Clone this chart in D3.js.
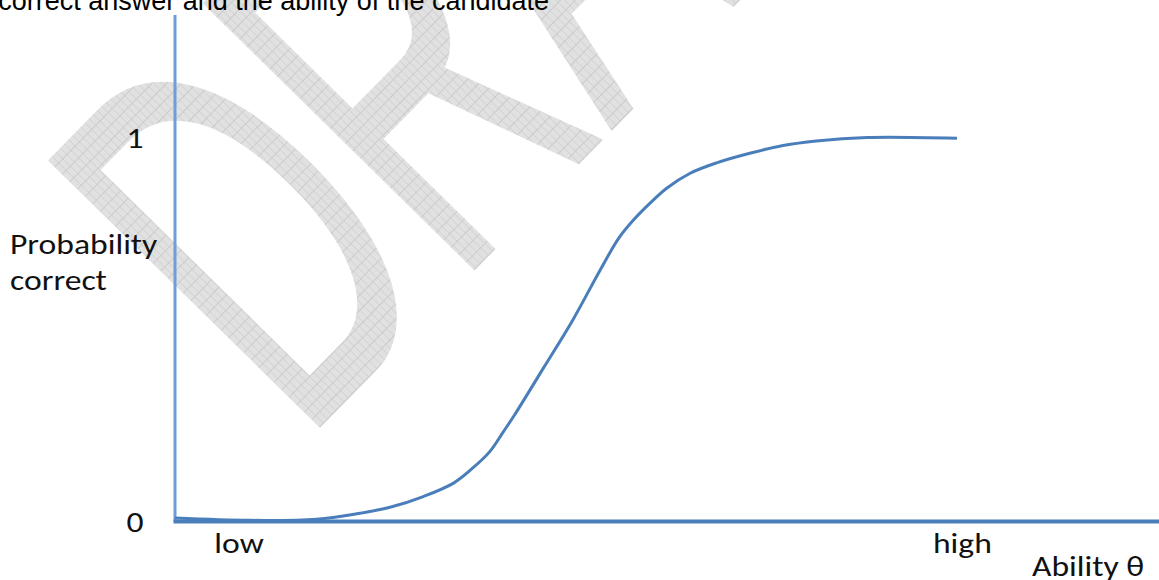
<!DOCTYPE html>
<html>
<head>
<meta charset="utf-8">
<script src="https://cdn.jsdelivr.net/npm/d3@7"></script>
<style>
  html, body { margin: 0; padding: 0; background: #fff; }
  svg { display: block; }
</style>
</head>
<body>
<svg id="chart" width="1159" height="580"></svg>
<script>
// ---- data ----
const theta = [-4.00, -3.23, -2.55, -2.14, -1.80, -1.46, -1.15, -0.95, -0.78, -0.64, -0.52, -0.23, 0.07, 0.35, 0.54, 0.69, 0.86, 1.03, 1.27, 1.54, 1.88, 2.22, 2.56, 3.08, 4.00];
const prob  = [0.009, 0.003, 0.006, 0.020, 0.037, 0.065, 0.100, 0.140, 0.182, 0.234, 0.280, 0.400, 0.525, 0.655, 0.738, 0.785, 0.829, 0.868, 0.907, 0.934, 0.959, 0.979, 0.991, 1.000, 0.998];
const yTicks = [0, 1];
const yTickLabels = ["0", "1"];
const xTicks = [-3.35, 4.05];
const xTickLabels = ["low", "high"];
const yTitle = ["Probability", "correct"];
const xTitle = "Ability θ";
const topText = "correct answer and the ability of the candidate";
const watermark = "DRAFT";

// ---- layout ----
const W = 1159, H = 580;
const svg = d3.select("#chart");
const x = d3.scaleLinear().domain([-4, 4]).range([175, 957]);
const y = d3.scaleLinear().domain([0, 1]).range([521.5, 137.5]);
const blue = "#4a7ebb";
const labelFont = "Carlito, Lato, 'Open Sans', sans-serif";
const labelSize = 29.5, stretch = 1.14;

// watermark pattern
const defs = svg.append("defs");
const pat = defs.append("pattern").attr("id", "grid").attr("patternUnits", "userSpaceOnUse")
  .attr("width", 10.6).attr("height", 10.6);
pat.append("rect").attr("width", 10.6).attr("height", 10.6).attr("fill", "#e1e1e1");
pat.append("path").attr("d", "M0,0.5H10.6M0.5,0V10.6").attr("stroke", "#cacaca").attr("stroke-width", 1).attr("fill", "none");

const wm = svg.append("g").attr("transform", "translate(302,444) rotate(-45.5) scale(0.555,1)");
wm.append("text").attr("x", 0).attr("y", 0)
  .attr("font-family", "'Liberation Sans', Arial, sans-serif").attr("font-size", 550)
  .attr("fill", "url(#grid)").attr("stroke", "url(#grid)").attr("stroke-width", 3).attr("stroke-linejoin", "round")
  .text(watermark);

// top cut-off text
svg.append("text").attr("x", 549).attr("y", 10).attr("text-anchor", "end")
  .attr("font-family", "'Liberation Sans', Arial, sans-serif").attr("font-size", 27).attr("fill", "#000")
  .text(topText);

// axes lines
svg.append("line").attr("x1", x(-4)).attr("x2", x(-4)).attr("y1", y(0)).attr("y2", y(1.319))
  .attr("stroke", "#6f9ddb").attr("stroke-width", 3);
svg.append("line").attr("x1", x(-4) - 1.5).attr("x2", W).attr("y1", y(0)).attr("y2", y(0))
  .attr("stroke", blue).attr("stroke-width", 4);

function styleLabel(sel) {
  sel.attr("font-family", labelFont).attr("font-size", labelSize).attr("fill", "#111");
}

// y tick labels via axis
const yAxis = d3.axisLeft(y).tickValues(yTicks).tickSize(0).tickPadding(0)
  .tickFormat((d, i) => yTickLabels[i]);
const gy = svg.append("g").attr("transform", "translate(135,0)").call(yAxis);
gy.select(".domain").remove();
gy.selectAll("text").call(styleLabel).attr("text-anchor", "middle").attr("x", 0).attr("dy", "0.33em")
  .attr("transform", `scale(${stretch},1)`);

// x tick labels via axis
const xAxis = d3.axisBottom(x).tickValues(xTicks).tickSize(0).tickPadding(0)
  .tickFormat((d, i) => xTickLabels[i]);
const gx = svg.append("g").attr("transform", "translate(0,532)").call(xAxis);
gx.select(".domain").remove();
gx.selectAll("text").call(styleLabel).attr("y", 0).attr("dy", "0.72em")
  .attr("transform", `scale(${stretch},1)`);

// axis titles
yTitle.forEach((t, i) => {
  svg.append("text").attr("transform", `translate(10,${254 + i * 36}) scale(${stretch},1)`)
    .call(styleLabel).text(t);
});
svg.append("text").attr("transform", `translate(1032,576) scale(${stretch},1)`)
  .call(styleLabel).text(xTitle);

// curve
const line = d3.line().x((d, i) => x(theta[i])).y((d, i) => y(prob[i])).curve(d3.curveCatmullRom.alpha(0.5));
svg.append("path").datum(prob).attr("d", line).attr("fill", "none")
  .attr("stroke", blue).attr("stroke-width", 3).attr("stroke-linecap", "butt");
</script>
</body>
</html>
